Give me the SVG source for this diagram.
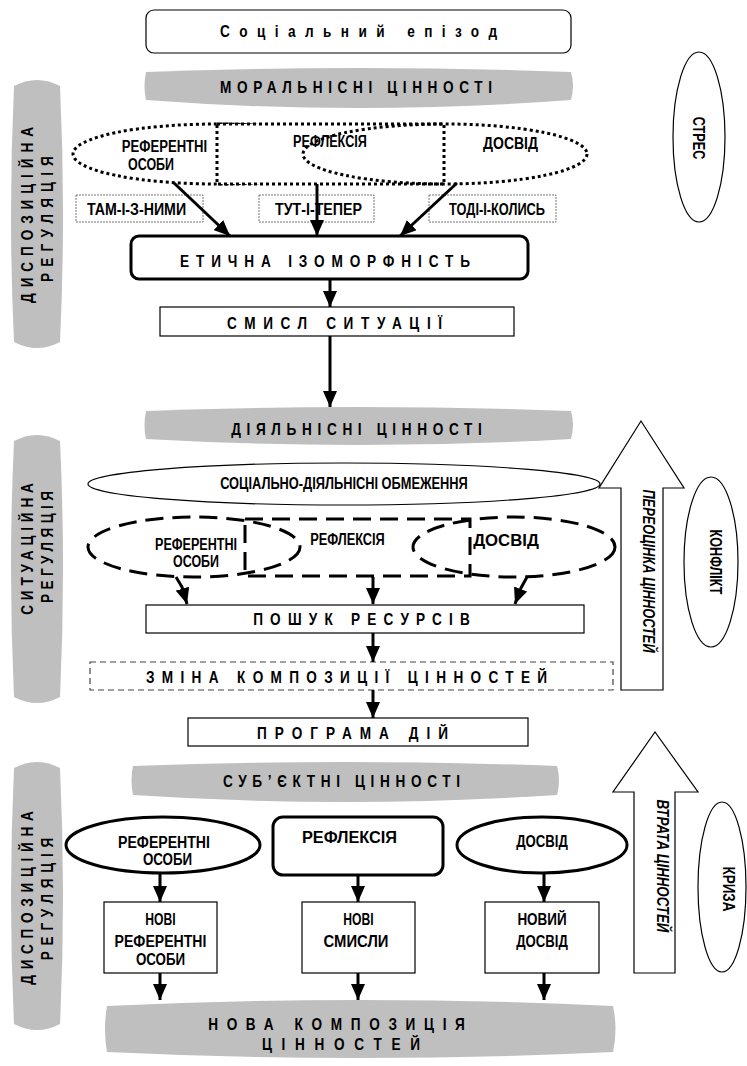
<svg xmlns="http://www.w3.org/2000/svg" width="747" height="1066" viewBox="0 0 747 1066">
<style>
.t{font-family:"Liberation Sans",Arial,sans-serif;font-weight:bold;fill:#000;font-size:16px;text-anchor:middle}
.it{font-style:italic}
.band{fill:#bfbfbf;stroke:none}
.thin{fill:#fff;stroke:#000;stroke-width:1.2}
.thick{fill:#fff;stroke:#000;stroke-width:3}
.dot{fill:none;stroke:#000;stroke-width:3;stroke-dasharray:3 3}
.dash{fill:none;stroke:#000;stroke-width:3;stroke-dasharray:18 9}
.gbox{fill:#fff;stroke:#777;stroke-width:1;stroke-dasharray:2 1}
.dbox{fill:#fff;stroke:#444;stroke-width:1.2;stroke-dasharray:6 4}
.out{fill:#fff;stroke:#000;stroke-width:1.2}
.arr{fill:none;stroke:#000;stroke-width:3;marker-end:url(#ah)}
</style>
<defs>
<marker id="ah" viewBox="0 0 16 14" markerWidth="16" markerHeight="14" refX="16" refY="7" orient="auto" markerUnits="userSpaceOnUse">
<path d="M0,0 L16,7 L0,14 Z" fill="#000"/>
</marker>
</defs>
<rect width="747" height="1066" fill="#fff"/>

<g id="side1">
<path class="band" d="M14,86 Q37,74 60,86 Q66,214 60,342 Q37,354 14,342 Q8,214 14,86 Z"/>
<text class="t" transform="translate(33,215) rotate(-90) scale(0.85,1)" textLength="207" lengthAdjust="spacing">ДИСПОЗИЦІЙНА</text>
<text class="t" transform="translate(53,219) rotate(-90) scale(0.85,1)" textLength="148" lengthAdjust="spacing">РЕГУЛЯЦІЯ</text>
</g>
<g id="side2">
<path class="band" d="M14,441 Q37,429 60,441 Q66,569 60,697 Q37,709 14,697 Q8,569 14,441 Z"/>
<text class="t" transform="translate(33,549) rotate(-90) scale(0.85,1)" textLength="155" lengthAdjust="spacing">СИТУАЦІЙНА</text>
<text class="t" transform="translate(53,547) rotate(-90) scale(0.85,1)" textLength="132" lengthAdjust="spacing">РЕГУЛЯЦІЯ</text>
</g>
<g id="side3">
<path class="band" d="M14,768 Q37,756 60,768 Q66,896 60,1024 Q37,1036 14,1024 Q8,896 14,768 Z"/>
<text class="t" transform="translate(33,898) rotate(-90) scale(0.85,1)" textLength="204" lengthAdjust="spacing">ДИСПОЗИЦІЙНА</text>
<text class="t" transform="translate(53,899) rotate(-90) scale(0.85,1)" textLength="144" lengthAdjust="spacing">РЕГУЛЯЦІЯ</text>
</g>

<g id="episode">
<rect class="thin" x="146" y="10" width="425" height="43" rx="8"/>
<text class="t" transform="translate(358.5,37) scale(0.85,1)" textLength="326" lengthAdjust="spacing">Соціальний епізод</text>
</g>
<g id="moral">
<path class="band" d="M146,72 Q358,64 571,72 Q575,86 571,100 Q358,116 146,100 Q143,86 146,72 Z"/>
<text class="t" transform="translate(356,93) scale(0.85,1)" textLength="320" lengthAdjust="spacing">МОРАЛЬНІСНІ ЦІННОСТІ</text>
</g>
<g id="dotted-group">
<ellipse class="dot" cx="216" cy="154" rx="143" ry="30"/>
<rect x="217" y="124" width="227" height="60" fill="#fff" stroke="none"/>
<rect class="dot" x="217" y="124" width="227" height="60"/>
<ellipse class="dot" cx="445" cy="154" rx="142" ry="30"/>
<text class="t" transform="translate(164.5,152) scale(0.82,1)" textLength="104" lengthAdjust="spacingAndGlyphs">РЕФЕРЕНТНІ</text>
<text class="t" transform="translate(151,170) scale(0.82,1)" textLength="56" lengthAdjust="spacingAndGlyphs">ОСОБИ</text>
<text class="t" transform="translate(330,147) scale(0.82,1)" textLength="90" lengthAdjust="spacingAndGlyphs">РЕФЛЕКСІЯ</text>
<text class="t" transform="translate(510.5,149) scale(0.82,1)" textLength="67" lengthAdjust="spacingAndGlyphs">ДОСВІД</text>
</g>
<g id="tam">
<rect class="gbox" x="76" y="195" width="127" height="27"/>
<text class="t" transform="translate(136.5,215) scale(0.82,1)" textLength="121" lengthAdjust="spacingAndGlyphs">ТАМ-І-З-НИМИ</text>
</g>
<g id="tut">
<rect class="gbox" x="259" y="195" width="115" height="27"/>
<text class="t" transform="translate(318.5,215) scale(0.82,1)" textLength="106" lengthAdjust="spacingAndGlyphs">ТУТ-І-ТЕПЕР</text>
</g>
<g id="todi">
<rect class="gbox" x="429" y="195" width="127" height="27"/>
<text class="t" transform="translate(497,215) scale(0.82,1)" textLength="117" lengthAdjust="spacingAndGlyphs">ТОДІ-І-КОЛИСЬ</text>
</g>
<g id="stres">
<ellipse class="out" cx="699" cy="137" rx="26" ry="85"/>
<text class="t" transform="translate(693,138) rotate(90) scale(0.82,1)" textLength="52" lengthAdjust="spacingAndGlyphs">СТРЕС</text>
</g>
<g id="etychna">
<rect class="thick" x="131" y="236" width="397" height="43" rx="8"/>
<text class="t" transform="translate(325,267) scale(0.85,1)" textLength="341" lengthAdjust="spacing">ЕТИЧНА ІЗОМОРФНІСТЬ</text>
</g>
<g id="smysl">
<rect class="thin" x="160" y="307" width="354" height="29"/>
<text class="t" transform="translate(334.5,329) scale(0.85,1)" textLength="253" lengthAdjust="spacing">СМИСЛ СИТУАЦІЇ</text>
</g>

<g id="diyal">
<path class="band" d="M146,411 Q358,403 571,411 Q575,425 571,439 Q358,451 146,439 Q143,425 146,411 Z"/>
<text class="t" transform="translate(356.5,435) scale(0.85,1)" textLength="295" lengthAdjust="spacing">ДІЯЛЬНІСНІ ЦІННОСТІ</text>
</g>
<g id="obmezh">
<ellipse class="out" cx="344" cy="484" rx="256" ry="21"/>
<text class="t" transform="translate(344,489) scale(0.82,1)" textLength="302" lengthAdjust="spacingAndGlyphs">СОЦІАЛЬНО-ДІЯЛЬНІСНІ ОБМЕЖЕННЯ</text>
</g>
<g id="pereocinka">
<path class="out" d="M621,690 L621,488 L599,488 L641,421 L684,488 L663,488 L663,690 Z"/>
<text class="t it" transform="translate(643,571) rotate(90) scale(0.82,1)" textLength="199" lengthAdjust="spacingAndGlyphs">ПЕРЕОЦІНКА ЦІННОСТЕЙ</text>
</g>
<g id="konflikt">
<ellipse class="out" cx="711" cy="562" rx="27" ry="85"/>
<text class="t" transform="translate(710,562) rotate(90) scale(0.82,1)" textLength="79" lengthAdjust="spacingAndGlyphs">КОНФЛІКТ</text>
</g>
<g id="dashed-group">
<ellipse class="dash" cx="194" cy="547" rx="106" ry="30"/>
<rect class="dash" x="245" y="519" width="225" height="57"/>
<ellipse class="dash" cx="514" cy="547" rx="101" ry="30"/>
<text class="t" transform="translate(196,550) scale(0.82,1)" textLength="100" lengthAdjust="spacingAndGlyphs">РЕФЕРЕНТНІ</text>
<text class="t" transform="translate(196,567) scale(0.82,1)" textLength="56" lengthAdjust="spacingAndGlyphs">ОСОБИ</text>
<text class="t" transform="translate(347.5,545) scale(0.82,1)" textLength="91" lengthAdjust="spacingAndGlyphs">РЕФЛЕКСІЯ</text>
<text class="t" transform="translate(506,546) scale(0.82,1)" textLength="80" lengthAdjust="spacingAndGlyphs">ДОСВІД</text>
</g>
<g id="poshuk">
<rect class="thin" x="146" y="605" width="438" height="28"/>
<text class="t" transform="translate(361.5,625) scale(0.85,1)" textLength="255" lengthAdjust="spacing">ПОШУК РЕСУРСІВ</text>
</g>
<g id="zmina">
<rect class="dbox" x="90" y="662" width="523" height="28"/>
<text class="t" transform="translate(346.5,683) scale(0.85,1)" textLength="472" lengthAdjust="spacing">ЗМІНА КОМПОЗИЦІЇ ЦІННОСТЕЙ</text>
</g>
<g id="programa">
<rect class="thin" x="188" y="718" width="340" height="28"/>
<text class="t" transform="translate(352.5,739) scale(0.85,1)" textLength="225" lengthAdjust="spacing">ПРОГРАМА ДІЙ</text>
</g>

<g id="subjekt">
<path class="band" d="M133,766 Q345,758 557,766 Q561,780 557,795 Q345,809 133,795 Q130,780 133,766 Z"/>
<text class="t" transform="translate(341.5,787) scale(0.85,1)" textLength="279" lengthAdjust="spacing">СУБ’ЄКТНІ ЦІННОСТІ</text>
</g>
<g id="vtrata">
<path class="out" d="M634,973 L634,792 L613,792 L655,732 L698,792 L675,792 L675,973 Z"/>
<text class="t it" transform="translate(657,866) rotate(90) scale(0.82,1)" textLength="162" lengthAdjust="spacingAndGlyphs">ВТРАТА ЦІННОСТЕЙ</text>
</g>
<g id="kryza">
<ellipse class="out" cx="722" cy="887" rx="24" ry="85"/>
<text class="t" transform="translate(723,889) rotate(90) scale(0.82,1)" textLength="55" lengthAdjust="spacingAndGlyphs">КРИЗА</text>
</g>
<g id="ref3">
<ellipse class="thick" cx="163" cy="845" rx="97" ry="28"/>
<text class="t" transform="translate(164,848) scale(0.82,1)" textLength="112" lengthAdjust="spacingAndGlyphs">РЕФЕРЕНТНІ</text>
<text class="t" transform="translate(167.5,865) scale(0.82,1)" textLength="60" lengthAdjust="spacingAndGlyphs">ОСОБИ</text>
</g>
<g id="refl3">
<rect class="thick" x="273" y="817" width="170" height="58" rx="10"/>
<text class="t" transform="translate(349.5,843) scale(0.82,1)" textLength="116" lengthAdjust="spacingAndGlyphs">РЕФЛЕКСІЯ</text>
</g>
<g id="dosvid3">
<ellipse class="thick" cx="542" cy="845" rx="85" ry="28"/>
<text class="t" transform="translate(542,847) scale(0.82,1)" textLength="63" lengthAdjust="spacingAndGlyphs">ДОСВІД</text>
</g>
<g id="nove1">
<rect class="thin" x="104" y="902" width="113" height="71"/>
<text class="t" transform="translate(160.5,925) scale(0.82,1)" textLength="37" lengthAdjust="spacingAndGlyphs">НОВІ</text>
<text class="t" transform="translate(160.5,947) scale(0.82,1)" textLength="112" lengthAdjust="spacingAndGlyphs">РЕФЕРЕНТНІ</text>
<text class="t" transform="translate(160.5,965) scale(0.82,1)" textLength="60" lengthAdjust="spacingAndGlyphs">ОСОБИ</text>
</g>
<g id="nove2">
<rect class="thin" x="302" y="902" width="113" height="71"/>
<text class="t" transform="translate(358.5,925) scale(0.82,1)" textLength="37" lengthAdjust="spacingAndGlyphs">НОВІ</text>
<text class="t" transform="translate(356,947) scale(0.82,1)" textLength="79" lengthAdjust="spacingAndGlyphs">СМИСЛИ</text>
</g>
<g id="nove3">
<rect class="thin" x="485" y="902" width="114" height="71"/>
<text class="t" transform="translate(542,925) scale(0.82,1)" textLength="60" lengthAdjust="spacingAndGlyphs">НОВИЙ</text>
<text class="t" transform="translate(542,947) scale(0.82,1)" textLength="63" lengthAdjust="spacingAndGlyphs">ДОСВІД</text>
</g>
<g id="nova-kompozycia">
<path class="band" d="M107,1006 Q360,994 613,1006 Q618,1029 613,1052 Q360,1064 107,1052 Q103,1029 107,1006 Z"/>
<text class="t" transform="translate(336.5,1030) scale(0.85,1)" textLength="302" lengthAdjust="spacing">НОВА КОМПОЗИЦІЯ</text>
<text class="t" transform="translate(341,1050) scale(0.85,1)" textLength="186" lengthAdjust="spacing">ЦІННОСТЕЙ</text>
</g>

<g id="connectors">
<line class="arr" x1="174" y1="183" x2="230" y2="236"/>
<line class="arr" x1="317" y1="184" x2="317" y2="236"/>
<line class="arr" x1="457" y1="183" x2="400" y2="236"/>
<line class="arr" x1="330" y1="279" x2="330" y2="307"/>
<line class="arr" x1="330" y1="336" x2="330" y2="407"/>
<path class="arr" d="M176,577 L182,587 L187,604"/>
<line class="arr" x1="373" y1="577" x2="373" y2="604"/>
<path class="arr" d="M527,577 L521,588 L515,604"/>
<line class="arr" x1="373" y1="633" x2="373" y2="662"/>
<line class="arr" x1="373" y1="690" x2="373" y2="718"/>
<line class="arr" x1="160" y1="873" x2="160" y2="902"/>
<line class="arr" x1="358" y1="875" x2="358" y2="902"/>
<line class="arr" x1="544" y1="873" x2="544" y2="902"/>
<line class="arr" x1="160" y1="973" x2="160" y2="1000"/>
<line class="arr" x1="358" y1="973" x2="358" y2="1000"/>
<line class="arr" x1="544" y1="973" x2="544" y2="1000"/>
</g>
</svg>
